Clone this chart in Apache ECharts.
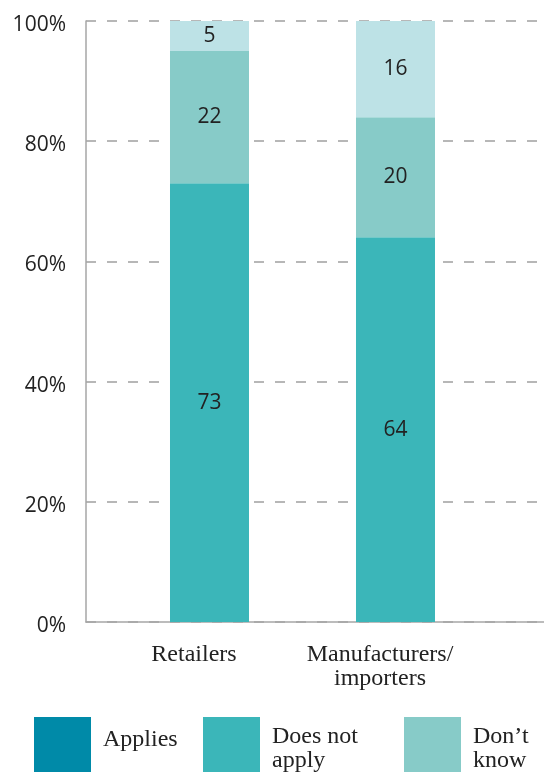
<!DOCTYPE html>
<html>
<head>
<meta charset="utf-8">
<script src="https://cdn.jsdelivr.net/npm/echarts@6/dist/echarts.min.js"></script>
<style>
  html, body { margin: 0; padding: 0; background: #fff; }
  #chart { width: 544px; height: 772px; }
</style>
</head>
<body>
<div id="chart"></div>
<script>
// categories (last one is empty, it only keeps the axis running off the right edge)
const categories = ['Retailers', 'Manufacturers/\nimporters', '']
const seriesNames = ['Applies', 'Does not apply', 'Don’t know', 'No answer']
const legendLabels = ['Applies', 'Does not\napply', 'Don’t\nknow', 'No\nanswer']
const seriesColors = ['#008aa8', '#3bb6b9', '#87cbc8', '#bde2e6']

// values in %
const applies = [0, 0]
const doesNotApply = [73, 64]
const dontKnow = [22, 20]
const noAnswer = [5, 16]
const seriesValues = [applies, doesNotApply, dontKnow, noAnswer]

const yTicks = [0, 20, 40, 60, 80, 100]
const legendLeft = [34, 203, 404, 600]

const sans = '"Open Sans", "Noto Sans", sans-serif'
const serif = '"Liberation Serif", "DejaVu Serif", serif'

const chart = echarts.init(document.getElementById('chart'))

const series = [
    // empty spacer column, pushes the stacked bars a bit right of the band centre
    { type: 'bar', name: 'spacer', data: [], barWidth: 79, barGap: '-22.8%', silent: true }
]
seriesNames.forEach((name, i) => {
    series.push({
        type: 'bar',
        name: name,
        stack: 'total',
        data: seriesValues[i],
        barWidth: 79,
        barGap: '-22.8%',
        itemStyle: { color: seriesColors[i] },
        label: {
            show: true,
            position: 'inside',
            fontFamily: sans,
            fontSize: 21,
            color: '#222',
            formatter: (p) => p.value ? String(p.value) : ''
        }
    })
})

// one legend per item so the uneven spacing of the original can be kept
// a small spacer line ({s| }) nudges the text up or down against the square
const legendText = (label) => {
    const lines = label.split('\n').map(l => '{t|' + l + '}')
    return lines.length > 1 ? ['{s| }'].concat(lines).join('\n') : lines.concat(['{s| }']).join('\n')
}

const legends = seriesNames.map((name, i) => ({
    data: [name],
    left: legendLeft[i],
    top: 717,
    padding: 0,
    itemWidth: 57,
    itemHeight: 57,
    icon: 'rect',
    selectedMode: false,
    formatter: () => legendText(legendLabels[i]),
    textStyle: {
        rich: {
            t: { fontFamily: serif, fontSize: 24, lineHeight: 24, color: '#222', padding: [0, 0, 0, 7] },
            s: { fontSize: 6, lineHeight: legendLabels[i].includes('\n') ? 6 : 12 }
        }
    }
}))

const option = {
    animation: false,
    grid: {
        left: 86,
        top: 21,
        bottom: 150,
        right: -100,
        outerBoundsMode: 'none'
    },
    legend: legends,
    xAxis: {
        type: 'category',
        data: categories,
        axisLine: { lineStyle: { color: '#a6a6a6', width: 1.5 } },
        axisTick: { show: false },
        axisLabel: {
            interval: 0,
            fontFamily: serif,
            fontSize: 24,
            lineHeight: 24,
            color: '#222',
            margin: 21,
            padding: [0, 0, 0, 30]
        }
    },
    yAxis: {
        type: 'value',
        min: yTicks[0],
        max: yTicks[yTicks.length - 1],
        interval: yTicks[1] - yTicks[0],
        axisLine: { show: true, lineStyle: { color: '#a6a6a6', width: 1.5 } },
        axisTick: { show: false },
        axisLabel: {
            fontFamily: sans,
            fontSize: 21,
            color: '#222',
            margin: 20,
            verticalAlign: 'top',
            lineHeight: 8,
            formatter: '{value}%'
        },
        splitLine: {
            lineStyle: { color: '#a0a0a0', width: 1.5, type: [10, 11] }
        }
    },
    series: series
}

chart.setOption(option)
</script>
</body>
</html>
